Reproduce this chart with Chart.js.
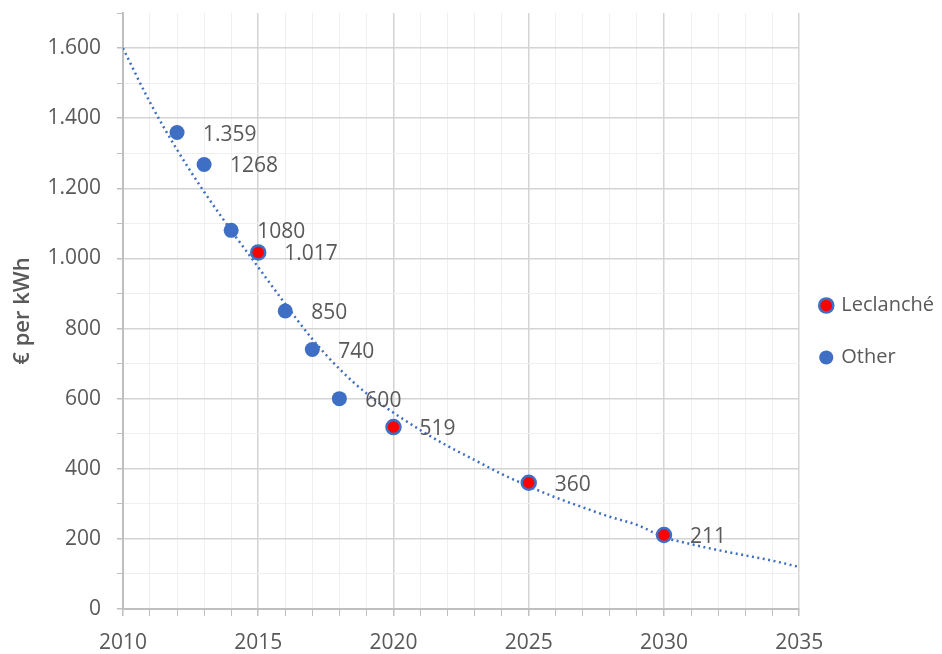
<!DOCTYPE html>
<html><head><meta charset="utf-8">
<script src="https://cdn.jsdelivr.net/npm/chart.js@4/dist/chart.umd.min.js"></script>
<style>html,body{margin:0;padding:0;background:#fff;overflow:hidden}</style>
</head><body>
<canvas id="c" width="942" height="654"></canvas>
<script>
// ---- data ----
const otherYears = [2012, 2013, 2014, 2016, 2017, 2018];
const otherValues = [1359, 1268, 1080, 850, 740, 600];
const otherLabels = ['1.359', '1268', '1080', '850', '740', '600'];

const leclancheYears = [2015, 2020, 2025, 2030];
const leclancheValues = [1017, 519, 360, 211];
const leclancheLabels = ['1.017', '519', '360', '211'];

// dotted trend line at each year
const trendYears = [2010,2011,2012,2013,2014,2015,2016,2017,2018,2019,2020,2021,2022,2023,2024,2025,2026,2027,2028,2029,2030,2031,2032,2033,2034,2035];
const trendValues = [1600,1445,1310,1190,1080,975,870,770,685,615,560,510,465,425,385,350,318,290,263,240,205,185,168,153,138,120];

const xTickLabels = ['2010', '2015', '2020', '2025', '2030', '2035'];
const yTickLabels = ['0', '200', '400', '600', '800', '1.000', '1.200', '1.400', '1.600'];

const seriesNames = ['Leclanché', 'Other'];
const yTitle = '€ per kWh';

// ---- chart ----
const FONT = '"Open Sans", sans-serif';
const TXT = '#595959';
const BLUE = '#3f6fc4';
const RED = '#ff0000';

const pts = (xs, ys) => xs.map((x, i) => ({x, y: ys[i]}));

const labelPlugin = {
  id: 'pointLabels',
  beforeLayout(chart) {
    const lg = chart.legend;
    if (lg && !lg._patched) {
      const f = lg.fit.bind(lg);
      lg.fit = function () { f(); this.width -= 12; };
      lg._patched = true;
    }
  },
  afterLayout(chart) {
    const lg = chart.legend;
    if (lg) { lg.left = chart.chartArea.right - 10; lg.top -= 4; }
  },
  afterDatasetsDraw(chart) {
    const ctx = chart.ctx;
    ctx.save();
    ctx.font = '21px ' + FONT;
    ctx.fillStyle = TXT;
    ctx.textAlign = 'left';
    ctx.textBaseline = 'middle';
    chart.data.datasets.forEach((ds, di) => {
      if (!ds.pointLabels) return;
      const meta = chart.getDatasetMeta(di);
      meta.data.forEach((el, i) => {
        ctx.fillText(ds.pointLabels[i], el.x + 26, el.y + 2);
      });
    });
    ctx.restore();
  }
};

new Chart(document.getElementById('c'), {
  type: 'scatter',
  data: {
    datasets: [
      {
        label: seriesNames[0],
        data: pts(leclancheYears, leclancheValues),
        pointLabels: leclancheLabels,
        backgroundColor: RED,
        borderColor: BLUE,
        borderWidth: 2.5,
        pointRadius: 7,
        order: 1
      },
      {
        label: seriesNames[1],
        data: pts(otherYears, otherValues),
        pointLabels: otherLabels,
        backgroundColor: BLUE,
        borderColor: BLUE,
        borderWidth: 0,
        pointRadius: 7.5,
        order: 2
      },
      {
        label: 'trend',
        type: 'line',
        data: pts(trendYears, trendValues),
        borderColor: BLUE,
        borderWidth: 2.5,
        borderDash: [2, 3.5],
        pointRadius: 0,
        fill: false,
        cubicInterpolationMode: 'monotone',
        order: 3
      }
    ]
  },
  options: {
    responsive: false,
    animation: false,
    devicePixelRatio: 1,
    layout: {padding: {left: 10, right: 0, top: 13, bottom: 0}},
    plugins: {
      tooltip: {enabled: false},
      legend: {
        position: 'right',
        labels: {
          filter: item => item.text !== 'trend',
          usePointStyle: true,
          pointStyle: 'circle',
          boxWidth: 10,
          boxHeight: 10,
          padding: 32,
          color: TXT,
          font: {family: FONT, size: 20}
        }
      }
    },
    scales: {
      x: {
        type: 'linear',
        min: 2010, max: 2035,
        afterFit: s => { s.height = 45; s.paddingLeft = 0; s.paddingRight = 0; },
        ticks: {
          stepSize: 1,
          autoSkip: false,
          maxRotation: 0,
          color: TXT,
          font: {family: FONT, size: 21},
          padding: 14,
          callback: v => xTickLabels.includes(String(v)) ? String(v) : ''
        },
        grid: {
          color: c => (c.tick && c.tick.value % 5 === 0) ? '#d4d4d4' : '#efefef',
          lineWidth: c => (c.tick && c.tick.value % 5 === 0) ? 1.5 : 1,
          tickLength: 7,
          tickColor: '#bfbfbf'
        },
        border: {color: '#bfbfbf', width: 2}
      },
      y: {
        min: 0, max: 1700,
        afterFit: s => { s.paddingTop = 0; s.paddingBottom = 0; },
        ticks: {
          stepSize: 100,
          autoSkip: false,
          color: TXT,
          font: {family: FONT, size: 21},
          padding: 16,
          callback: v => (v % 200 === 0) ? yTickLabels[v / 200] : ''
        },
        title: {
          display: true,
          text: yTitle,
          color: TXT,
          font: {family: FONT, size: 22, weight: '600'},
          padding: {top: 0, bottom: -5}
        },
        grid: {
          color: c => {
            if (!c.tick) return '#efefef';
            if (c.tick.value === 1700) return 'rgba(0,0,0,0)';
            return c.tick.value % 200 === 0 ? '#d4d4d4' : '#efefef';
          },
          lineWidth: c => (c.tick && c.tick.value % 200 === 0) ? 1.5 : 1,
          tickLength: 6,
          tickColor: '#bfbfbf'
        },
        border: {color: '#bfbfbf', width: 2}
      }
    }
  },
  plugins: [labelPlugin]
});
</script>
</body></html>
